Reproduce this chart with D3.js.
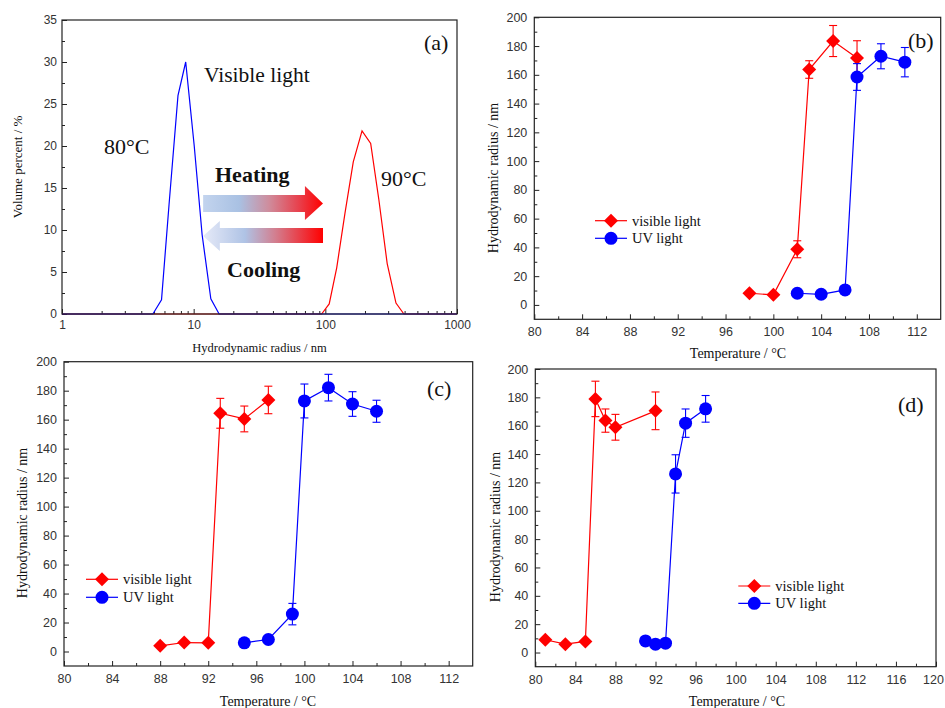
<!DOCTYPE html>
<html><head><meta charset="utf-8">
<script src="https://cdn.jsdelivr.net/npm/d3@7"></script>
<style>body{margin:0;background:#fff}</style>
</head><body>
<svg id="chart" width="945" height="708"></svg>
<script>
// ---------- Panel (a): size distributions ----------
const aBlueSize = [1, 4.9, 5.7, 6.5, 7.6, 8.7, 10.1, 11.6, 13.5, 15.6, 1000];
const aBlueVol  = [0, 0, 1.7, 13, 26, 30, 20, 9.4, 1.8, 0, 0];
const aRedSize  = [1, 93.7, 107, 122, 141, 163, 190, 221, 255, 295, 344, 395, 1000];
const aRedVol   = [0, 0, 1.2, 5.5, 12, 18.1, 21.8, 20.3, 13.6, 6, 1.3, 0, 0];
const aXTicks = [1, 10, 100, 1000];
const aYTicks = [0, 5, 10, 15, 20, 25, 30, 35];

// ---------- Panel (b) ----------
const bVisT = [98, 100, 102, 103, 105, 107];
const bVisR = [8.1, 7, 38.7, 163.7, 183.5, 171.7];
const bVisE = [0, 0, 5.9, 6.1, 10.8, 12];
const bUvT  = [102, 104, 106, 107, 109, 111];
const bUvR  = [8.1, 7.4, 10.4, 158.5, 172.9, 168.8];
const bUvE  = [0, 0, 0, 9.3, 8.7, 10.2];

// ---------- Panel (c) ----------
const cVisT = [88, 90, 92, 93, 95, 97];
const cVisR = [3.9, 6.2, 6, 164.4, 160.5, 173.6];
const cVisE = [0, 0, 0, 10.3, 8.9, 9.5];
const cUvT  = [95, 97, 99, 100, 102, 104, 106];
const cUvR  = [6, 8.3, 25.8, 172.9, 182.1, 170.8, 165.8];
const cUvE  = [0, 0, 7.4, 11.7, 9.2, 8.5, 7.6];

// ---------- Panel (d) ----------
const dVisT = [81, 83, 85, 86, 87, 88, 92];
const dVisR = [9.0, 5.9, 7.8, 178.9, 163.6, 158.9, 170.5];
const dVisE = [0, 0, 0, 12.5, 8.2, 9.1, 13.3];
const dUvT  = [91, 92, 93, 94, 95, 97];
const dUvR  = [8.2, 5.9, 6.6, 126, 161.8, 171.9];
const dUvE  = [0, 0, 0, 13.5, 10, 9.4];

const yTicksR = [0, 20, 40, 60, 80, 100, 120, 140, 160, 180, 200];
const yMinorR = [10, 30, 50, 70, 90, 110, 130, 150, 170, 190];
const xTicksBC = [80, 84, 88, 92, 96, 100, 104, 108, 112];
const xTicksD  = [80, 84, 88, 92, 96, 100, 104, 108, 112, 116, 120];

const RED = "#ff0000", BLUE = "#0000ff";
const SERIF = "'Liberation Serif','Times New Roman',serif";
const SANS = "'Liberation Sans',Arial,sans-serif";
const FRAME = "#222";

const svg = d3.select("#chart");

function styleAxis(sel, fs) {
  sel.select(".domain").remove();
  sel.selectAll(".tick line").attr("stroke", FRAME).attr("stroke-width", 1);
  sel.selectAll(".tick text").attr("font-family", SANS).attr("font-size", fs).attr("fill", "#333");
}

function frame(g, l, r, t, b) {
  g.append("rect").attr("x", l).attr("y", t).attr("width", r - l).attr("height", b - t)
    .attr("fill", "none").attr("stroke", FRAME).attr("stroke-width", 1.2);
}

// ================= Panel (a) =================
(function () {
  const L = 62, R = 457, T = 20, B = 314;
  const g = svg.append("g");
  const x = d3.scaleLog().domain([1, 1000]).range([L, R]);
  const y = d3.scaleLinear().domain([0, 35]).range([B, T]);
  const xMinor = [];
  [1, 10, 100].forEach(d => { for (let k = 2; k <= 9; k++) xMinor.push(d * k); });
  const yMinor = [2.5, 7.5, 12.5, 17.5, 22.5, 27.5, 32.5];

  g.append("g").attr("transform", `translate(0,${B})`)
    .call(d3.axisBottom(x).tickValues(xMinor).tickSize(-3).tickFormat("")).call(s => styleAxis(s, 12));
  g.append("g").attr("transform", `translate(0,${B})`)
    .call(d3.axisBottom(x).tickValues(aXTicks).tickSize(-5).tickPadding(6).tickFormat(d3.format("d")))
    .call(s => styleAxis(s, 12));
  g.append("g").attr("transform", `translate(${L},0)`)
    .call(d3.axisLeft(y).tickValues(yMinor).tickSize(-3).tickFormat("")).call(s => styleAxis(s, 12));
  g.append("g").attr("transform", `translate(${L},0)`)
    .call(d3.axisLeft(y).tickValues(aYTicks).tickSize(-5).tickPadding(5))
    .call(s => styleAxis(s, 12));

  const line = d3.line().x(d => x(d[0])).y(d => y(d[1]));
  g.append("path").datum(aRedSize.map((s, i) => [s, aRedVol[i]]))
    .attr("d", line).attr("fill", "none").attr("stroke", RED).attr("stroke-width", 1.2);
  g.append("path").datum(aBlueSize.map((s, i) => [s, aBlueVol[i]]))
    .attr("d", line).attr("fill", "none").attr("stroke", BLUE).attr("stroke-width", 1.2);

  frame(g, L, R, T, B);

  // gradient arrows
  const defs = svg.append("defs");
  const gh = defs.append("linearGradient").attr("id", "gHeat").attr("gradientUnits", "userSpaceOnUse")
    .attr("x1", x(11.8)).attr("x2", x(96)).attr("y1", 0).attr("y2", 0);
  [[0, "#c3d4ee"], [0.3, "#a9c1e3"], [0.55, "#cf8c9c"], [0.8, "#e8404c"], [1, "#ff0000"]]
    .forEach(s => gh.append("stop").attr("offset", s[0]).attr("stop-color", s[1]));
  const gc = defs.append("linearGradient").attr("id", "gCool").attr("gradientUnits", "userSpaceOnUse")
    .attr("x1", x(11.8)).attr("x2", x(96)).attr("y1", 0).attr("y2", 0);
  [[0, "#e6eaf8"], [0.35, "#afc3e5"], [0.6, "#d27f90"], [0.85, "#ee3038"], [1, "#ff0000"]]
    .forEach(s => gc.append("stop").attr("offset", s[0]).attr("stop-color", s[1]));

  const heat = [[11.8, 14.17], [70, 14.17], [70, 15.24], [96, 13.15], [70, 11.19], [70, 12.14], [11.8, 12.14]];
  const cool = [[11.8, 9.29], [15.8, 11.07], [15.8, 10.24], [96, 10.24], [96, 8.45], [15.8, 8.45], [15.8, 7.5]];
  const poly = d3.line().x(d => x(d[0])).y(d => y(d[1]));
  g.append("path").attr("d", poly(heat) + "Z").attr("fill", "url(#gHeat)");
  g.append("path").attr("d", poly(cool) + "Z").attr("fill", "url(#gCool)");

  const txt = (s, px, py, fs, bold) => g.append("text").text(s).attr("x", px).attr("y", py)
    .attr("font-family", SERIF).attr("font-size", fs).attr("font-weight", bold ? "bold" : "normal").attr("fill", "#111");
  txt("(a)", 424, 50, 22);
  txt("Visible light", 204, 82, 21.5);
  txt("80°C", 104, 154, 22);
  txt("90°C", 381, 186, 22);
  txt("Heating", 215, 182, 22, true);
  txt("Cooling", 227, 277, 22, true);

  g.append("text").text("Hydrodynamic radius / nm").attr("x", (L + R) / 2).attr("y", 352)
    .attr("text-anchor", "middle").attr("font-family", SERIF).attr("font-size", 12.5).attr("fill", "#111");
  g.append("text").text("Volume percent / %").attr("transform", `translate(22,${(T + B) / 2}) rotate(-90)`)
    .attr("text-anchor", "middle").attr("font-family", SERIF).attr("font-size", 13).attr("fill", "#111");
})();

// ================= Scatter panels =================
function scatterPanel(cfg) {
  const { L, R, T, B } = cfg;
  const g = svg.append("g");
  const x = d3.scaleLinear().domain(cfg.xDomain).range([L, R]);
  const y = d3.scaleLinear().domain([-10, 200]).range([B, T]);
  const xMinor = d3.range(cfg.xDomain[0] + 2, cfg.xDomain[1], 4);

  g.append("g").attr("transform", `translate(0,${B})`)
    .call(d3.axisBottom(x).tickValues(xMinor).tickSize(-3).tickFormat("")).call(s => styleAxis(s, 12.5));
  const xa = g.append("g").attr("transform", `translate(0,${B})`)
    .call(d3.axisBottom(x).tickValues(cfg.xTicks).tickSize(-5).tickPadding(8)).call(s => styleAxis(s, 12.5));
  // keep a label that touches the page edge inside the picture
  xa.selectAll(".tick text").each(function () {
    const bb = this.getBBox();
    const tr = this.parentNode.getAttribute("transform");
    const tx = +tr.match(/translate\(([-\d.]+)/)[1];
    const over = tx + bb.x + bb.width - 944;
    if (over > 0) d3.select(this).attr("x", -over);
  });
  g.append("g").attr("transform", `translate(${L},0)`)
    .call(d3.axisLeft(y).tickValues(yMinorR).tickSize(-3).tickFormat("")).call(s => styleAxis(s, 12.5));
  g.append("g").attr("transform", `translate(${L},0)`)
    .call(d3.axisLeft(y).tickValues(yTicksR).tickSize(-5).tickPadding(7)).call(s => styleAxis(s, 12.5));

  frame(g, L, R, T, B);

  const line = d3.line().x(d => x(d.t)).y(d => y(d.r));
  const diamond = "M0,-7L7,0L0,7L-7,0Z";

  cfg.series.forEach(s => {
    const pts = s.t.map((t, i) => ({ t, r: s.r[i], e: s.e[i] }));
    g.append("path").datum(pts).attr("d", line).attr("fill", "none")
      .attr("stroke", s.color).attr("stroke-width", 1.2);
    const eb = g.append("g").attr("stroke", s.color).attr("stroke-width", 1.1);
    pts.filter(p => p.e > 0).forEach(p => {
      const cx = x(p.t), y1 = y(p.r + p.e), y2 = y(p.r - p.e);
      eb.append("line").attr("x1", cx).attr("x2", cx).attr("y1", y1).attr("y2", y2);
      eb.append("line").attr("x1", cx - 4).attr("x2", cx + 4).attr("y1", y1).attr("y2", y1);
      eb.append("line").attr("x1", cx - 4).attr("x2", cx + 4).attr("y1", y2).attr("y2", y2);
    });
    pts.forEach(p => {
      if (s.shape === "diamond") {
        g.append("path").attr("d", diamond).attr("transform", `translate(${x(p.t)},${y(p.r)})`).attr("fill", s.color);
      } else {
        g.append("circle").attr("cx", x(p.t)).attr("cy", y(p.r)).attr("r", 6.5).attr("fill", s.color);
      }
    });
  });

  // legend
  const lg = g.append("g");
  cfg.series.forEach((s, i) => {
    const ly = cfg.legY + i * cfg.legDy;
    lg.append("line").attr("x1", cfg.legX).attr("x2", cfg.legX + 32).attr("y1", ly).attr("y2", ly)
      .attr("stroke", s.color).attr("stroke-width", 1.2);
    if (s.shape === "diamond") lg.append("path").attr("d", diamond).attr("transform", `translate(${cfg.legX + 16},${ly})`).attr("fill", s.color);
    else lg.append("circle").attr("cx", cfg.legX + 16).attr("cy", ly).attr("r", 6.5).attr("fill", s.color);
    lg.append("text").text(s.name).attr("x", cfg.legX + 37).attr("y", ly + 5)
      .attr("font-family", SERIF).attr("font-size", 14.5).attr("fill", "#111");
  });

  g.append("text").text(cfg.tag).attr("x", cfg.tagX).attr("y", cfg.tagY)
    .attr("font-family", SERIF).attr("font-size", 22).attr("fill", "#111");
  g.append("text").text("Temperature / °C").attr("x", cfg.xtX).attr("y", cfg.xtY)
    .attr("text-anchor", "middle").attr("font-family", SERIF).attr("font-size", 14).attr("fill", "#111");
  g.append("text").text("Hydrodynamic radius / nm").attr("transform", `translate(${cfg.ytX},${cfg.ytY}) rotate(-90)`)
    .attr("text-anchor", "middle").attr("font-family", SERIF).attr("font-size", 14).attr("fill", "#111");
}

scatterPanel({
  L: 534.3, R: 940.7, T: 17.3, B: 319.3, xDomain: [80, 114], xTicks: xTicksBC,
  series: [
    { name: "visible light", t: bVisT, r: bVisR, e: bVisE, color: RED, shape: "diamond" },
    { name: "UV light", t: bUvT, r: bUvR, e: bUvE, color: BLUE, shape: "circle" }
  ],
  legX: 595, legY: 220.7, legDy: 17.6, tag: "(b)", tagX: 908, tagY: 48,
  xtX: 738, xtY: 358, ytX: 498, ytY: 178
});

scatterPanel({
  L: 64, R: 472.7, T: 361.7, B: 666, xDomain: [80, 114], xTicks: xTicksBC,
  series: [
    { name: "visible light", t: cVisT, r: cVisR, e: cVisE, color: RED, shape: "diamond" },
    { name: "UV light", t: cUvT, r: cUvR, e: cUvE, color: BLUE, shape: "circle" }
  ],
  legX: 86, legY: 579.3, legDy: 18, tag: "(c)", tagX: 427, tagY: 396,
  xtX: 268, xtY: 706, ytX: 27, ytY: 523
});

scatterPanel({
  L: 535.3, R: 936, T: 369, B: 666.7, xDomain: [80, 120], xTicks: xTicksD,
  series: [
    { name: "visible light", t: dVisT, r: dVisR, e: dVisE, color: RED, shape: "diamond" },
    { name: "UV light", t: dUvT, r: dUvR, e: dUvE, color: BLUE, shape: "circle" }
  ],
  legX: 738.3, legY: 586, legDy: 17.3, tag: "(d)", tagX: 898, tagY: 412,
  xtX: 737, xtY: 706, ytX: 500, ytY: 527
});
</script>
</body></html>
